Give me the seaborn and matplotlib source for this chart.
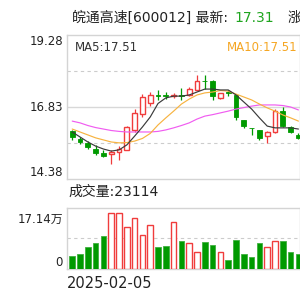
import numpy as np
import pandas as pd
import seaborn as sns
import matplotlib
matplotlib.use('Agg')
import matplotlib.pyplot as plt

# 行情数据
opens = [16.01, 15.74, 15.60, 15.40, 15.27, 15.23, 15.30, 15.37, 16.05, 16.59,
         16.97, 17.24, 17.24, 17.20, 17.25, 17.24, 17.42, 17.73, 17.72, 17.14,
         17.35, 17.24, 16.39, 16.12, 16.05, 15.85, 15.98, 16.69, 16.15, 15.88]
closes = [15.81, 15.64, 15.47, 15.27, 15.16, 15.30, 15.40, 16.15, 16.63, 17.17,
          17.24, 17.22, 17.22, 17.23, 17.22, 17.45, 17.72, 17.70, 17.20, 17.30,
          17.30, 16.49, 16.18, 16.10, 15.77, 15.99, 16.69, 16.18, 15.99, 15.77]
highs = [16.05, 15.80, 15.66, 15.55, 15.35, 15.37, 15.50, 16.18, 16.75, 17.26,
         17.34, 17.40, 17.35, 17.30, 17.48, 17.50, 17.92, 17.92, 17.75, 17.32,
         17.42, 17.27, 16.40, 16.12, 16.06, 16.02, 16.75, 16.83, 16.20, 15.93]
lows = [15.71, 15.58, 15.39, 15.20, 15.14, 14.89, 15.03, 15.37, 15.99, 16.50,
        16.85, 17.07, 17.10, 17.12, 17.07, 17.20, 17.40, 17.45, 17.07, 17.10,
        17.22, 16.40, 16.12, 15.88, 15.70, 15.60, 15.95, 16.15, 15.95, 15.74]
ma5 = [15.98, 15.81, 15.64, 15.50, 15.40, 15.33, 15.37, 15.54, 15.84, 16.15,
       16.49, 16.95, 17.14, 17.20, 17.20, 17.24, 17.34, 17.44, 17.44, 17.41,
       17.41, 17.24, 17.00, 16.76, 16.46, 16.18, 16.12, 16.12, 16.12, 16.08]
ma10 = [16.08, 15.98, 15.88, 15.78, 15.71, 15.64, 15.61, 15.62, 15.67, 15.76,
        15.93, 16.22, 16.46, 16.69, 16.93, 17.10, 17.24, 17.31, 17.34, 17.39,
        17.37, 17.27, 17.17, 17.07, 16.93, 16.80, 16.69, 16.56, 16.46, 16.35]
ma20 = [16.35, 16.29, 16.20, 16.13, 16.08, 16.03, 16.00, 15.98, 15.98, 15.98,
        15.98, 16.00, 16.05, 16.12, 16.20, 16.29, 16.42, 16.52, 16.57, 16.63,
        16.69, 16.76, 16.81, 16.86, 16.90, 16.90, 16.90, 16.88, 16.83, 16.73]
# 成交量 (万)
volumes = [4.09, 4.71, 6.68, 8.00, 10.25, 17.14, 17.10, 13.00, 15.60, 10.46,
           13.54, 6.86, 7.17, 14.55, 8.70, 7.90, 5.14, 8.40, 7.38, 5.32,
           2.77, 8.92, 4.62, 3.78, 7.90, 6.86, 8.60, 8.70, 5.14, 4.62]
vol_up = [0, 0, 0, 0, 0, 1, 1, 1, 1, 1, 1, 0, 0, 1, 0, 1, 1, 0, 0, 1,
          0, 0, 0, 0, 0, 1, 1, 0, 0, 0]
price_ticks = [14.38, 16.83, 19.28]
vol_max = 17.14

RED = '#f03c3c'
GREEN = '#009a00'

sns.set_theme(style='white')
plt.rcParams['font.family'] = ['DejaVu Sans', 'Noto Sans CJK SC']

df = pd.DataFrame({'x': np.arange(len(closes)), 'open': opens, 'close': closes,
                   'high': highs, 'low': lows, 'ma5': ma5, 'ma10': ma10,
                   'ma20': ma20, 'vol': volumes, 'up': vol_up})

fig = plt.figure(figsize=(3, 3), dpi=100)
ax = fig.add_axes([67 / 300, 121 / 300, 233 / 300, 144 / 300])
axv = fig.add_axes([67 / 300, 31 / 300, 233 / 300, 61 / 300])

# 网格
ax.axhline(price_ticks[1], color='#d8d8d8', lw=1, zorder=0)
for v in [(price_ticks[0] + price_ticks[1]) / 2, (price_ticks[1] + price_ticks[2]) / 2]:
    ax.axhline(v, color='#cccccc', lw=0.8, ls=(0, (3, 3)), zorder=0)
axv.axhline(vol_max * 0.55, color='#cccccc', lw=0.8, ls=(0, (3, 3)), zorder=0)

# K线
rise = df['close'] >= df['open']
ax.vlines(df['x'], df['low'], df['high'], colors=np.where(rise, RED, GREEN), lw=0.9, zorder=2)
body = (df['close'] - df['open']).abs().clip(lower=0.02)
ax.bar(df['x'][rise], body[rise], bottom=df['open'][rise], width=0.62,
       facecolor='white', edgecolor=RED, lw=1, zorder=3)
ax.bar(df['x'][~rise], body[~rise], bottom=df['close'][~rise], width=0.62,
       facecolor=GREEN, edgecolor=GREEN, lw=0.6, zorder=3)

# 均线
sns.lineplot(data=df, x='x', y='ma20', ax=ax, color='#f05cf0', lw=0.85, zorder=4)
sns.lineplot(data=df, x='x', y='ma10', ax=ax, color='#f7b340', lw=0.85, zorder=4)
sns.lineplot(data=df, x='x', y='ma5', ax=ax, color='#3a3a3a', lw=0.85, zorder=5)

ax.set_xlim(-0.67, 29.2)
ax.set_ylim(price_ticks[0], price_ticks[2])
ax.set_yticks(price_ticks)
ax.set_yticklabels([f'{v:.2f}' for v in price_ticks])
for lab, va in zip(ax.get_yticklabels(), ['bottom', 'center', 'top']):
    lab.set_va(va)
ax.set_xticks([])

# 成交量
up = df['up'] == 1
axv.bar(df['x'][up], df['vol'][up], width=0.72, facecolor='white', edgecolor=RED, lw=1, zorder=3)
axv.bar(df['x'][~up], df['vol'][~up], width=0.72, facecolor=GREEN, edgecolor='#3fb03f', lw=0.6, zorder=3)
axv.set_xlim(-0.67, 29.2)
axv.set_ylim(0, vol_max / 0.913)
axv.set_yticks([0, vol_max])
axv.set_yticklabels(['0', f'{vol_max:.2f}万'])
for lab, va in zip(axv.get_yticklabels(), ['bottom', 'top']):
    lab.set_va(va)
axv.set_xticks([])

for a in (ax, axv):
    a.set_xlabel('')
    a.set_ylabel('')
    a.tick_params(axis='y', length=0, pad=3, labelsize=8.5, labelcolor='#222222')
    for s in a.spines.values():
        s.set_color('#d4d4d4')
        s.set_linewidth(1)

# 文字
fig.text(72 / 300, 1 - 18 / 300, '皖通高速[600012] 最新:', fontsize=10, color='#222222', va='center')
fig.text(234 / 300, 1 - 18 / 300, '17.31', fontsize=10, color='#1fa51f', va='center')
fig.text(288 / 300, 1 - 18 / 300, '涨', fontsize=10, color='#222222', va='center')
fig.text(75 / 300, 1 - 47 / 300, 'MA5:17.51', fontsize=8.5, color='#333333', va='center')
fig.text(298 / 300, 1 - 47 / 300, 'MA10:17.51', fontsize=8.5, color='#f5a623', va='center', ha='right')
fig.text(68 / 300, 1 - 192 / 300, '成交量:23114', fontsize=10, color='#222222', va='center')
fig.text(67 / 300, 1 - 283 / 300, '2025-02-05', fontsize=10.5, color='#222222', va='center')

fig.savefig('out.png', dpi=100)
